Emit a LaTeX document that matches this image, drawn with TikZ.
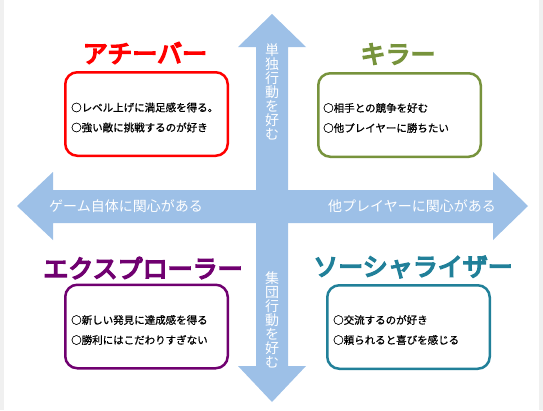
\documentclass[tikz,border=0pt]{standalone}
\usepackage{fontspec}
\usepackage{tikz}
\newfontfamily\jp[FakeBold=0.8]{Noto Sans CJK JP}
\newfontfamily\jplabel{Noto Sans CJK JP}
\newfontfamily\jptitle[FakeBold=6]{Noto Sans CJK JP}
\definecolor{arrowBlue}{RGB}{157,192,231}
\definecolor{achRed}{RGB}{255,0,0}
\definecolor{killGreen}{RGB}{119,147,60}
\definecolor{expPurple}{RGB}{112,0,112}
\definecolor{socTeal}{RGB}{33,128,153}
\tikzset{
  typebox/.style={draw, line width=2.5pt, rounded corners=12pt, minimum width=162.5pt, minimum height=83.5pt, fill=white},
  typename/.style={font=\jptitle\fontsize{25}{25}\selectfont, inner sep=0pt},
  boxtext/.style={font=\jp\fontsize{10.5}{20}\selectfont, align=left, anchor=west, inner sep=0pt},
  axislabel/.style={font=\jplabel\fontsize{14}{14}\selectfont, text=white, inner sep=0pt, align=center}
}

\begin{document}
\begin{tikzpicture}[x=1pt, y=-1pt]
        \useasboundingbox (0,0) rectangle (543,410);
        \fill[gray!12] (0,0) rectangle (4,410);
        \fill[gray!12] (539,0) rectangle (543,410);
        \fill[arrowBlue] (272,14) -- (306,47) -- (288,47) -- (288,366) -- (306,366) -- (272,402)
          -- (238,366) -- (256,366) -- (256,47) -- (238,47) -- cycle;
        \fill[arrowBlue] (17,206) -- (53,172) -- (53,190) -- (493,190) -- (493,172) -- (528,206)
          -- (493,240) -- (493,223) -- (53,223) -- (53,240) -- cycle;
        \node[axislabel] (solo) at (272,92) {単\\独\\行\\動\\を\\好\\む};
        \node[axislabel] (group) at (272,320) {集\\団\\行\\動\\を\\好\\む};
        \node[axislabel] (world) at (126,206) {ゲーム自体に関心がある};
        \node[axislabel] (players) at (412,206) {他プレイヤーに関心がある};
        \node[typebox, draw=achRed] (achiever) at (146.5,114) {};
        \node[typebox, draw=killGreen] (killer) at (399.5,115) {};
        \node[typebox, draw=expPurple] (explorer) at (146.5,326.5) {};
        \node[typebox, draw=socTeal] (socializer) at (408.5,327) {};
        \node[typename, text=achRed] (achName) at (145,53) {アチーバー};
        \node[typename, text=killGreen] (killName) at (398,54) {キラー};
        \node[typename, text=expPurple] (expName) at (143,268) {エクスプローラー};
        \node[typename, text=socTeal] (socName) at (413,267) {ソーシャライザー};
        \node[boxtext] (achText) at ([xshift=7pt, yshift=-3.5pt]achiever.west) {○レベル上げに満足感を得る。\\○強い敵に挑戦するのが好き};
        \node[boxtext] (killText) at ([xshift=6pt, yshift=-3pt]killer.west) {○相手との競争を好む\\○他プレイヤーに勝ちたい};
        \node[boxtext] (expText) at ([xshift=7pt, yshift=-3.5pt]explorer.west) {○新しい発見に達成感を得る\\○勝利にはこだわりすぎない};
        \node[boxtext] (socText) at ([xshift=7pt, yshift=-3pt]socializer.west) {○交流するのが好き\\○頼られると喜びを感じる};
      \end{tikzpicture}
\end{document}
